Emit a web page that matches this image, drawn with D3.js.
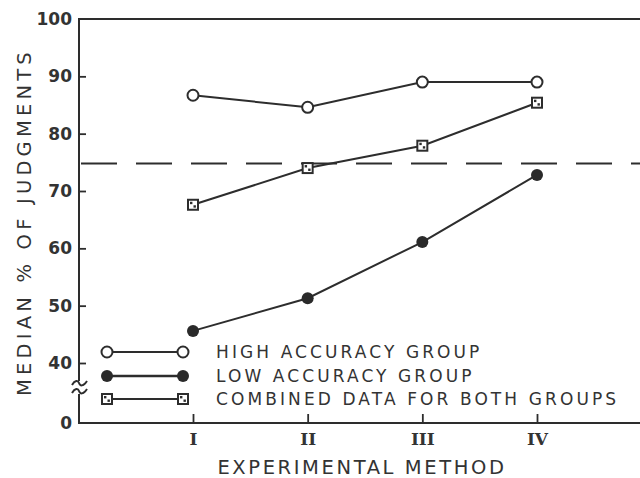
<!DOCTYPE html>
<html>
<head>
<meta charset="utf-8">
<script src="https://cdn.jsdelivr.net/npm/d3@7/dist/d3.min.js"></script>
<style>
  html, body { margin: 0; padding: 0; background: #ffffff; }
  svg { display: block; }
  text { font-family: "DejaVu Sans", sans-serif; fill: #333333; }
</style>
</head>
<body>
<svg id="chart" width="640" height="478"></svg>
<script>
// ---- data ----
const methods = ["I", "II", "III", "IV"];
const highAccuracy = [86.7, 84.6, 89.0, 89.0];
const lowAccuracy = [45.6, 51.3, 61.1, 72.8];
const combined = [67.6, 74.0, 77.9, 85.4];
const referenceLevel = 74.8;
const yTicks = [0, 40, 50, 60, 70, 80, 90, 100];
const legendLabels = ["HIGH ACCURACY GROUP", "LOW ACCURACY GROUP", "COMBINED DATA FOR BOTH GROUPS"];
const xTitle = "EXPERIMENTAL METHOD";
const yTitle = "MEDIAN % OF JUDGMENTS";

// ---- layout ----
const plotLeft = 79, plotTop = 19, plotBottom = 423, plotRight = 640;
const ink = "#2d2d2d";

const svg = d3.select("#chart");

const x = d3.scalePoint().domain(methods).range([193, 537]);
// broken scale: 0 at the axis origin, 40..100 linear above the break
const y = d3.scaleLinear().domain([0, 40, 100]).range([plotBottom, 363, plotTop]);

// top frame line
svg.append("line")
  .attr("x1", plotLeft).attr("x2", plotRight).attr("y1", plotTop).attr("y2", plotTop)
  .attr("stroke", ink).attr("stroke-width", 2);

// x axis
const xAxis = svg.append("g").attr("transform", `translate(0,${plotBottom})`)
  .call(d3.axisBottom(x).tickSizeInner(-9).tickSizeOuter(0).tickPadding(0));
xAxis.select(".domain").remove();
xAxis.append("line").attr("x1", plotLeft).attr("x2", plotRight).attr("y1", 0).attr("y2", 0)
  .attr("stroke", ink).attr("stroke-width", 2);
xAxis.selectAll(".tick line").attr("stroke", ink).attr("stroke-width", 1.8);
xAxis.selectAll(".tick text")
  .attr("y", 16).attr("dy", "0.36em")
  .style("font-family", "'DejaVu Serif', serif").style("font-weight", "bold")
  .style("font-size", "17px").style("fill", "#333");

// y axis
const yAxis = svg.append("g").attr("transform", `translate(${plotLeft},0)`)
  .call(d3.axisLeft(y).tickValues(yTicks).tickSizeInner(-7).tickSizeOuter(0).tickPadding(7)
    .tickFormat(d3.format("d")));
yAxis.select(".domain").remove();
yAxis.selectAll(".tick line").attr("stroke", ink).attr("stroke-width", 1.8)
  .filter(d => d === 0 || d === 100).remove();
yAxis.selectAll(".tick text").style("font-size", "17px").style("font-weight", "bold").style("fill", "#333");

// y axis line with break
const breakTop = 381, breakBot = 394;
yAxis.append("line").attr("x1", 0).attr("x2", 0).attr("y1", plotTop - 1).attr("y2", breakTop)
  .attr("stroke", ink).attr("stroke-width", 2);
yAxis.append("line").attr("x1", 0).attr("x2", 0).attr("y1", breakBot).attr("y2", plotBottom + 1)
  .attr("stroke", ink).attr("stroke-width", 2);
[breakTop + 2, breakBot - 3].forEach(yy => {
  yAxis.append("path")
    .attr("d", `M-7,${yy + 2} C-4,${yy - 3} -1,${yy - 3} 0,${yy} S4,${yy + 4} 8,${yy - 2}`)
    .attr("fill", "none").attr("stroke", ink).attr("stroke-width", 2);
});

// dashed reference line
svg.append("line")
  .attr("x1", plotLeft + 2).attr("x2", plotRight)
  .attr("y1", y(referenceLevel)).attr("y2", y(referenceLevel))
  .attr("stroke", ink).attr("stroke-width", 2)
  .attr("stroke-dasharray", "36,19");

// series
const series = [
  { key: "high", values: highAccuracy },
  { key: "low", values: lowAccuracy },
  { key: "comb", values: combined }
];
const line = d3.line().x((d, i) => x(methods[i])).y(d => y(d));

function drawMarker(g, type) {
  if (type === "high") {
    g.append("circle").attr("r", 5.5).attr("fill", "#fff").attr("stroke", ink).attr("stroke-width", 2);
  } else if (type === "low") {
    g.append("circle").attr("r", 6).attr("fill", "#2a2a2a");
  } else {
    g.append("rect").attr("x", -5).attr("y", -5).attr("width", 10).attr("height", 10)
      .attr("fill", "#fff").attr("stroke", ink).attr("stroke-width", 2);
    g.append("rect").attr("x", -3).attr("y", -3).attr("width", 2.4).attr("height", 2.4).attr("fill", ink);
    g.append("rect").attr("x", 0.5).attr("y", 0.5).attr("width", 2.4).attr("height", 2.4).attr("fill", ink);
  }
}

series.forEach(s => {
  svg.append("path").datum(s.values).attr("d", line)
    .attr("fill", "none").attr("stroke", ink).attr("stroke-width", 2);
  s.values.forEach((v, i) => {
    const g = svg.append("g").attr("transform", `translate(${x(methods[i])},${y(v)})`);
    drawMarker(g, s.key);
  });
});

// legend
const legendY = [352, 376, 399];
series.forEach((s, i) => {
  const ly = legendY[i];
  svg.append("line").attr("x1", 107).attr("x2", 183).attr("y1", ly).attr("y2", ly)
    .attr("stroke", ink).attr("stroke-width", s.key === "low" ? 2.4 : 1.8);
  [107, 183].forEach(lx => drawMarker(svg.append("g").attr("transform", `translate(${lx},${ly})`), s.key));
  svg.append("text").attr("x", 216).attr("y", ly).attr("dy", "0.36em")
    .style("font-size", "17px").style("letter-spacing", "3.1px")
    .text(legendLabels[i]);
});

// axis titles
svg.append("text").attr("x", 362).attr("y", 467).attr("dy", "0.36em")
  .attr("text-anchor", "middle")
  .style("font-size", "19.5px").style("letter-spacing", "2.6px")
  .text(xTitle);

svg.append("text")
  .attr("transform", `translate(24,222) rotate(-90)`)
  .attr("text-anchor", "middle").attr("dy", "0.36em")
  .style("font-size", "19.5px").style("letter-spacing", "4.2px")
  .text(yTitle);
</script>
</body>
</html>
